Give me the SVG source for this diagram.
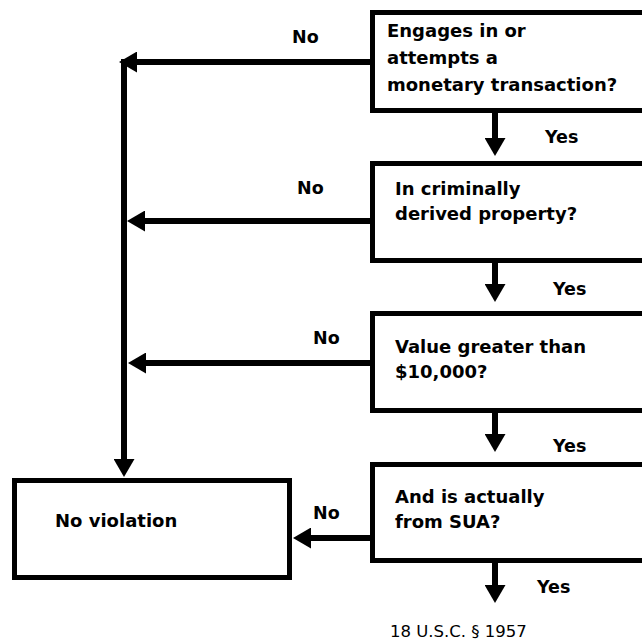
<svg xmlns="http://www.w3.org/2000/svg" width="642" height="641" viewBox="0 0 642 641">
<style>
.box{fill:#fff;stroke:#000;stroke-width:5}
.t{font-family:"DejaVu Sans","Liberation Sans",sans-serif;font-weight:bold;font-size:18px;fill:#000}
.lbl{font-family:"DejaVu Sans","Liberation Sans",sans-serif;font-weight:bold;font-size:17.5px;fill:#000}
.cap{font-family:"DejaVu Sans","Liberation Sans",sans-serif;font-size:16.5px;fill:#000}
.c{fill:none;stroke:#000;stroke-width:6}
</style>
<defs>
<marker id="ah" markerUnits="userSpaceOnUse" markerWidth="18" markerHeight="21" refX="0" refY="10.5" orient="auto">
<path d="M0,0 L18,10.5 L0,21 z" fill="#000"/>
</marker>
</defs>
<rect width="642" height="641" fill="#fff"/>
<g id="connectors">
<path class="c" d="M124,59 V459" marker-end="url(#ah)"/>
<path class="c" d="M372,62 H137" marker-end="url(#ah)"/>
<path class="c" d="M372,221 H145" marker-end="url(#ah)"/>
<path class="c" d="M372,363 H146" marker-end="url(#ah)"/>
<path class="c" d="M372,538 H311" marker-end="url(#ah)"/>
<path class="c" d="M495,112 V138" marker-end="url(#ah)"/>
<path class="c" d="M495,261 V284" marker-end="url(#ah)"/>
<path class="c" d="M495,411 V434" marker-end="url(#ah)"/>
<path class="c" d="M495,561 V585" marker-end="url(#ah)"/>
<text class="lbl" x="292" y="43">No</text>
<text class="lbl" x="297" y="194">No</text>
<text class="lbl" x="313" y="344">No</text>
<text class="lbl" x="313" y="519">No</text>
<text class="lbl" x="545" y="143">Yes</text>
<text class="lbl" x="553" y="295">Yes</text>
<text class="lbl" x="553" y="452">Yes</text>
<text class="lbl" x="537" y="593">Yes</text>
</g>
<g id="q1">
<rect class="box" x="372.5" y="12.5" width="290" height="98"/>
<text class="t" x="387" y="37">Engages in or</text>
<text class="t" x="387" y="64">attempts a</text>
<text class="t" x="387" y="91">monetary transaction?</text>
</g>
<g id="q2">
<rect class="box" x="372.5" y="163.5" width="290" height="97"/>
<text class="t" x="395" y="195">In criminally</text>
<text class="t" x="395" y="220">derived property?</text>
</g>
<g id="q3">
<rect class="box" x="372.5" y="313.5" width="290" height="97"/>
<text class="t" x="395" y="353">Value greater than</text>
<text class="t" x="395" y="378">$10,000?</text>
</g>
<g id="q4">
<rect class="box" x="372.5" y="464.5" width="290" height="96"/>
<text class="t" x="395" y="503">And is actually</text>
<text class="t" x="395" y="528">from SUA?</text>
</g>
<g id="noviolation">
<rect class="box" x="14.5" y="480.5" width="275" height="97"/>
<text class="t" x="55" y="527">No violation</text>
</g>
<g id="citation">
<text class="cap" x="390" y="637">18 U.S.C. § 1957</text>
</g>
</svg>
